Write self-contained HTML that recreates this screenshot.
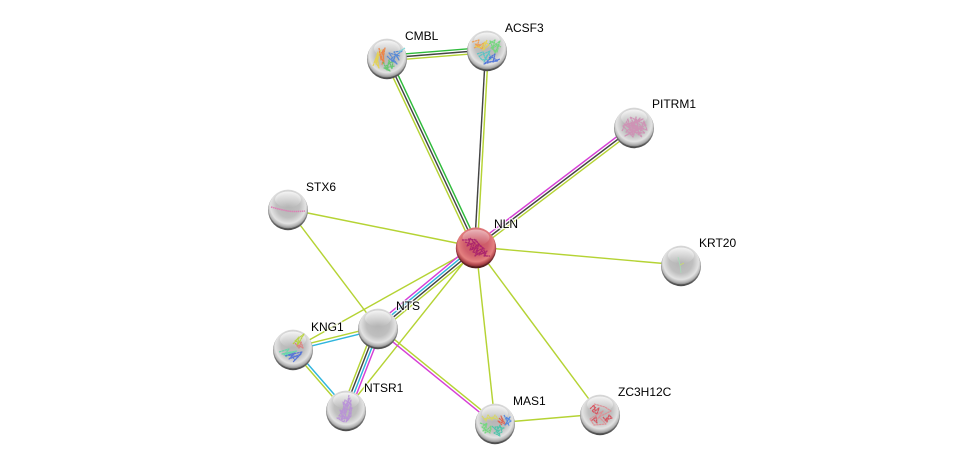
<!DOCTYPE html>
<html><head><meta charset="utf-8"><style>
html,body{margin:0;padding:0;background:#fff;width:976px;height:468px;overflow:hidden}
svg{display:block}
text{font:12px "Liberation Sans",sans-serif;fill:#000;stroke:#fff;stroke-width:2.5px;paint-order:stroke;stroke-opacity:.75}
.l{fill:none;stroke-width:1.45}
.y{stroke:#b5d334}.k{stroke:#444}.g{stroke:#2fbb3c}.m{stroke:#d63fd6}.c{stroke:#2fb5dd}
.p{fill:none;stroke-width:1.2;stroke-linejoin:round;opacity:.92;stroke-dasharray:2.5 .4}
</style></head><body>
<svg width="976" height="468" viewBox="0 0 976 468" xmlns="http://www.w3.org/2000/svg">
<defs>
<radialGradient id="s" cx=".5" cy=".42" r=".6">
<stop offset="0" stop-color="#b4b4b4"/><stop offset=".5" stop-color="#bfbfbf"/><stop offset=".76" stop-color="#e2e2e2"/><stop offset=".88" stop-color="#b6b6b6"/><stop offset="1" stop-color="#737373"/>
</radialGradient>
<radialGradient id="r" cx=".5" cy=".42" r=".6">
<stop offset="0" stop-color="#c8525f"/><stop offset=".5" stop-color="#d0606c"/><stop offset=".76" stop-color="#e4807f"/><stop offset=".88" stop-color="#b54a50"/><stop offset="1" stop-color="#702226"/>
</radialGradient>
<linearGradient id="h" x1="0" y1="0" x2="0" y2="1">
<stop offset="0" stop-color="#fff" stop-opacity=".78"/><stop offset="1" stop-color="#fff" stop-opacity="0"/>
</linearGradient>
<linearGradient id="sh" x1="0" y1="0" x2="0" y2="1">
<stop offset=".5" stop-color="#999"/><stop offset="1" stop-color="#4a4a4a"/>
</linearGradient>
<linearGradient id="shr" x1="0" y1="0" x2="0" y2="1">
<stop offset=".5" stop-color="#a04048"/><stop offset="1" stop-color="#4e1a1a"/>
</linearGradient>
<g id="n"><circle cy="1.2" r="20" fill="url(#sh)"/><circle r="19.4" fill="url(#s)"/></g>
<g id="nr"><circle cy="1.2" r="20.2" fill="url(#shr)"/><circle r="19.6" fill="url(#r)"/></g>
<ellipse id="hl" cx="0" cy="-9.5" rx="13" ry="8" fill="url(#h)"/>
</defs>

<g class="l y">
<line x1="288" y1="209" x2="476" y2="247"/>
<line x1="288" y1="209" x2="378" y2="328"/>
<line x1="476" y1="247" x2="681" y2="265"/>
<line x1="476" y1="247" x2="495" y2="423"/>
<line x1="476" y1="247" x2="600" y2="414"/>
<line x1="495" y1="423" x2="600" y2="414"/>
<line x1="476" y1="247" x2="293" y2="349"/>
<line x1="476" y1="247" x2="346" y2="410"/>
</g>

<line class="l g" x1="387" y1="55.3" x2="487" y2="47.3"/>
<line class="l k" x1="387" y1="58" x2="487" y2="50"/>
<line class="l y" x1="387" y1="60.7" x2="487" y2="52.7"/>
<line class="l y" x1="384.5" y1="59.2" x2="473.5" y2="248.2"/>
<line class="l k" x1="387" y1="58" x2="476" y2="247"/>
<line class="l g" x1="389.5" y1="56.8" x2="478.5" y2="245.8"/>
<line class="l k" x1="485.6" y1="50" x2="474.6" y2="247"/>
<line class="l y" x1="488.4" y1="50" x2="477.4" y2="247"/>
<line class="l m" x1="632.4" y1="124.8" x2="474.4" y2="244.8"/>
<line class="l k" x1="634" y1="127" x2="476" y2="247"/>
<line class="l y" x1="635.6" y1="129.2" x2="477.6" y2="249.2"/>
<line class="l m" x1="473.4" y1="243.9" x2="375.4" y2="324.9"/>
<line class="l c" x1="475.1" y1="246" x2="377.1" y2="327"/>
<line class="l k" x1="476.9" y1="248" x2="378.9" y2="329"/>
<line class="l y" x1="478.6" y1="250.1" x2="380.6" y2="331.1"/>
<line class="l y" x1="377.6" y1="326.6" x2="292.6" y2="347.6"/>
<line class="l c" x1="378.4" y1="329.4" x2="293.4" y2="350.4"/>
<line class="l c" x1="294" y1="348.1" x2="347" y2="409.1"/>
<line class="l y" x1="292" y1="349.9" x2="345" y2="410.9"/>
<line class="l y" x1="374.2" y1="326.6" x2="342.2" y2="408.6"/>
<line class="l k" x1="376.7" y1="327.5" x2="344.7" y2="409.5"/>
<line class="l c" x1="379.3" y1="328.5" x2="347.3" y2="410.5"/>
<line class="l m" x1="381.8" y1="329.4" x2="349.8" y2="411.4"/>
<line class="l y" x1="378.9" y1="326.9" x2="495.9" y2="421.9"/>
<line class="l m" x1="377.1" y1="329.1" x2="494.1" y2="424.1"/>

<g transform="translate(387,58)"><use href="#n"/><use href="#hl"/>
<path class="p" stroke="#e6d24a" d="M-14 8L-9-6L-11 6L-6-8L-12 3L-8 10L-10-2"/>
<path class="p" stroke="#ef7f3c" d="M-8-10L-6 2L-4-8L-3 5L-7-3L-2-10L-5 7"/>
<path class="p" stroke="#5fc86a" d="M-4 4L0 12L2 2L5 11L6 3L-1 8L3 13L-3 10L8 8"/>
<path class="p" stroke="#4f86d8" d="M0-2L6 4L9-4L12 2L7-6L15-7L4 1L10 6L2-5L13-2"/>
<path class="p" stroke="#6fd8d8" d="M12-6L18-10"/>
</g>
<g transform="translate(487,50)"><use href="#n"/><use href="#hl"/>
<path class="p" stroke="#ef9a4c" d="M-15-8L-8-10L-10-3L-3-7L-5-1L-12-6L-6-5L-13-2"/>
<path class="p" stroke="#e6d24a" d="M-12-4L-6-2L-2-8L2-5L-4 0L0-10"/>
<path class="p" stroke="#6fd87a" d="M2-6L8-10L6-2L12-6L10 2L4-2L13-9L8 3L3-9L14-3"/>
<path class="p" stroke="#52c4c4" d="M-10 4L-4 2L-2 8L2 3L4 9L-5 10L-8 6L3 1L-3 12L0 6"/>
<path class="p" stroke="#4a70d8" d="M2 8L8 4L6 12L13 9L-3 14L5 7L11 11L0 12"/>
</g>
<g transform="translate(634,127)"><use href="#n"/><use href="#hl"/>
<path class="p" stroke="#cf8fb4" d="M-12 4L-6-8L-3 6L2-10L5 8L10-6L13 3L-10-3L8 10L-4-10L12-2L-9 9L3 2L-6 0L9-8L-11-1L-1 10L6-9L-8 5L11 6L-3-5L4 4L-7-4L7 0L-2 8L1-7L10 2L-5 3"/>
</g>
<g transform="translate(288,209)"><use href="#n"/><use href="#hl"/>
<path d="M-17-2Q-6 1 0 2T17 2" fill="none" stroke="#dd7fb5" stroke-width="1.5" stroke-dasharray="1.5 .6"/>
</g>
<g transform="translate(681,265)"><use href="#n"/><use href="#hl"/>
<path d="M-3-8L-1 0L0 8" fill="none" stroke="#a8d8b8" stroke-width=".9"/>
<path d="M-1 0L3-2" fill="none" stroke="#c8dc70" stroke-width=".8"/>
</g>
<g transform="translate(378,328)"><use href="#n"/><use href="#hl"/></g>
<g transform="translate(293,349)"><use href="#n"/><use href="#hl"/>
<path class="p" stroke="#b5d334" d="M0-5L6-12L4-3L11-15L2-8L8-6"/>
<path class="p" stroke="#e07a7a" d="M2-6L6-1L8-7L10-1L5-4"/>
<path class="p" stroke="#5fd8a8" d="M-14 3L-4 0L-9 6L4 2L-11 5L-2 3L-7 8"/>
<path class="p" stroke="#4f70d8" d="M-8 7L2 4L-4 10L8 5L0 13L5 8L-5 6L9 3L2 11L-2 6"/>
</g>
<g transform="translate(346,410)"><use href="#n"/><use href="#hl"/>
<path class="p" stroke="#b890d8" d="M3-15L1-4L-3-8L-1 4L-6 0L-3 8L-9 8L-2 12L1-2L5-10L3 4L0 12L5 6L5-6L-1-10L-4 5L2 10L6-2L-2 1L4-12L-7 6L1 7L-5 10L3-6"/>
</g>
<g transform="translate(495,423)"><use href="#n"/><use href="#hl"/>
<path class="p" stroke="#d8d860" d="M-13-7L-9-2L-7-8L-3-3L0-8L3-4L-5-5L-11-4L-1-6"/>
<path class="p" stroke="#6fd87a" d="M-15 0L-9 2L-12 8L-7 6L-4 3L-5 10L-13 4L-8 0L-10 10L-3 6"/>
<path class="p" stroke="#45c4a8" d="M-3 3L2 8L5 2L7 9L3 11L0 4L9 5L-1 10L5 13L2 3"/>
<path class="p" stroke="#e0604c" d="M4-5L8-1L6-7L10 1L3-2L7 2"/>
<path class="p" stroke="#4f86e0" stroke-width="1.6" d="M9-8L12-2L15-6L10 2L16-2L11-6L14 3"/>
</g>
<g transform="translate(600,414)"><use href="#n"/><use href="#hl"/>
<path class="p" stroke="#d84c58" stroke-width="1.8" d="M-10-5L-6-9L-5-3L-1-6L-3 0L-8-3L-4-7M-9 7L-4 3L-3 9L-7 5M3 3L7 8L9 1L12 4L5 6L8 3"/>
<path class="p" stroke="#e08c92" d="M-6-10L5-7L11-3L-1 3L6 10L-6 11L-10 5L3-3L-3 6"/>
</g>
<g transform="translate(476,247)"><use href="#nr"/><ellipse cx="0" cy="-9.5" rx="13.5" ry="8" fill="url(#h)" opacity=".65"/>
<path class="p" stroke="#a81f6c" stroke-width="1.6" d="M-14-7L-6-7L-9-1L-1-5L-4 2L3-3L0 5L7 1L3 8L11 4L8 9L14 9M-6-9L1-1L-3 5L6 7M-2-8L6 0L10 7M-11-5L-4-3L-6 3L2 1L-1 9L6 4L10 9M-8-8L0-7L4-1L9 2"/>
</g>

<text x="405" y="40">CMBL</text>
<text x="505" y="32">ACSF3</text>
<text x="652" y="108">PITRM1</text>
<text x="306" y="191">STX6</text>
<text x="494" y="228">NLN</text>
<text x="699" y="247">KRT20</text>
<text x="396" y="310">NTS</text>
<text x="311" y="331">KNG1</text>
<text x="364" y="392">NTSR1</text>
<text x="513" y="405">MAS1</text>
<text x="618" y="396">ZC3H12C</text>
</svg>
</body></html>
